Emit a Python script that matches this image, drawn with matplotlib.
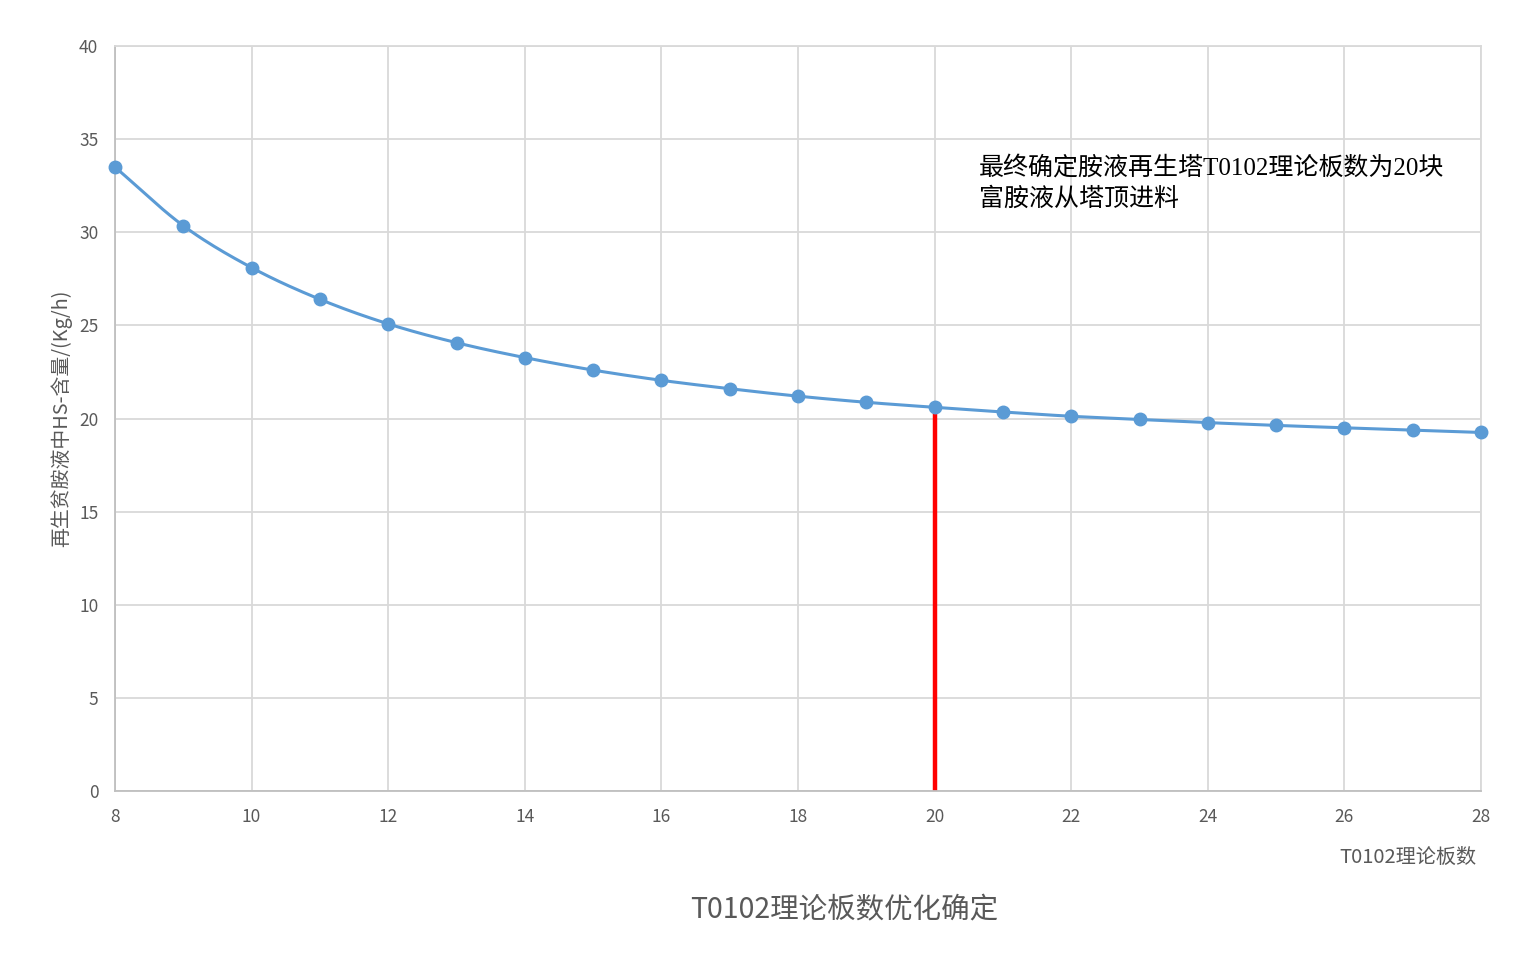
import numpy as np
import matplotlib
matplotlib.use("Agg")
import matplotlib.pyplot as plt

plt.rcParams['font.family'] = ['Noto Sans CJK SC', 'DejaVu Sans']

plates = [8, 9, 10, 11, 12, 13, 14, 15, 16, 17, 18, 19, 20, 21, 22, 23, 24, 25, 26, 27, 28]
hs_content = [33.5, 30.35, 28.1, 26.4, 25.08, 24.07, 23.27, 22.6, 22.05, 21.6, 21.2, 20.87, 20.6,
              20.35, 20.12, 19.95, 19.78, 19.63, 19.5, 19.37, 19.25]
chosen_plate = 20
x_ticks = list(range(8, 29, 2))
y_ticks = list(range(0, 41, 5))

title = "T0102理论板数优化确定"
xlabel = "T0102理论板数"
ylabel = "再生贫胺液中HS-含量/(Kg/h)"
note = "最终确定胺液再生塔T0102理论板数为20块\n富胺液从塔顶进料"

blue = "#5B9BD5"
grey_text = "#595959"
grid_c = "#D9D9D9"


def catmull_rom(x, y, n=20):
    x = np.asarray(x, float)
    y = np.asarray(y, float)
    px = np.concatenate([[2 * x[0] - x[1]], x, [2 * x[-1] - x[-2]]])
    py = np.concatenate([[2 * y[0] - y[1]], y, [2 * y[-1] - y[-2]]])
    xs, ys = [], []
    for i in range(1, len(px) - 2):
        t = np.linspace(0, 1, n, endpoint=False)
        for arr, out in ((px, xs), (py, ys)):
            p0, p1, p2, p3 = arr[i - 1], arr[i], arr[i + 1], arr[i + 2]
            out.append(0.5 * ((2 * p1) + (-p0 + p2) * t + (2 * p0 - 5 * p1 + 4 * p2 - p3) * t ** 2
                              + (-p0 + 3 * p1 - 3 * p2 + p3) * t ** 3))
    xs.append([x[-1]])
    ys.append([y[-1]])
    return np.concatenate(xs), np.concatenate(ys)


fig = plt.figure(figsize=(15.18, 9.59), dpi=100)
ax = fig.add_axes([115 / 1518, 1 - 791 / 959, (1481 - 115) / 1518, (791 - 46) / 959])

sx, sy = catmull_rom(plates, hs_content)
ax.plot(sx, sy, color=blue, lw=2.2, zorder=3, clip_on=False)
ax.plot(plates, hs_content, 'o', color=blue, ms=9, zorder=4, clip_on=False)

yval = hs_content[plates.index(chosen_plate)]
ax.plot([chosen_plate, chosen_plate], [0, yval], color="#FF0000", lw=3.2, zorder=2, solid_capstyle='butt')

ax.set_xlim(8, 28)
ax.set_ylim(0, 40)
ax.set_xticks(x_ticks)
ax.set_yticks(y_ticks)
ax.grid(True, color=grid_c, lw=1.3)
ax.set_axisbelow(True)
for s in ['top', 'right']:
    ax.spines[s].set_color(grid_c)
    ax.spines[s].set_linewidth(1.3)
for s in ['left', 'bottom']:
    ax.spines[s].set_color("#BFBFBF")
    ax.spines[s].set_linewidth(1.3)
ax.tick_params(length=0, labelsize=12.5, labelcolor=grey_text)
ax.tick_params(axis='x', pad=12)
ax.tick_params(axis='y', pad=12)

ax.set_ylabel(ylabel, fontsize=14.3, color=grey_text, labelpad=5)

fig.text(1476 / 1518, 1 - 857 / 959, xlabel, ha='right', va='center', fontsize=14.5, color=grey_text)
fig.text(844 / 1518, 1 - 910 / 959, title, ha='center', va='center', fontsize=20.5, color=grey_text)

fig.text(979 / 1518, 1 - 183 / 959, note, ha='left', va='center', fontsize=18, color='black',
         linespacing=1.38, family=['Liberation Serif', 'Noto Sans CJK SC'])

fig.savefig("out.png", dpi=100, facecolor='white')
